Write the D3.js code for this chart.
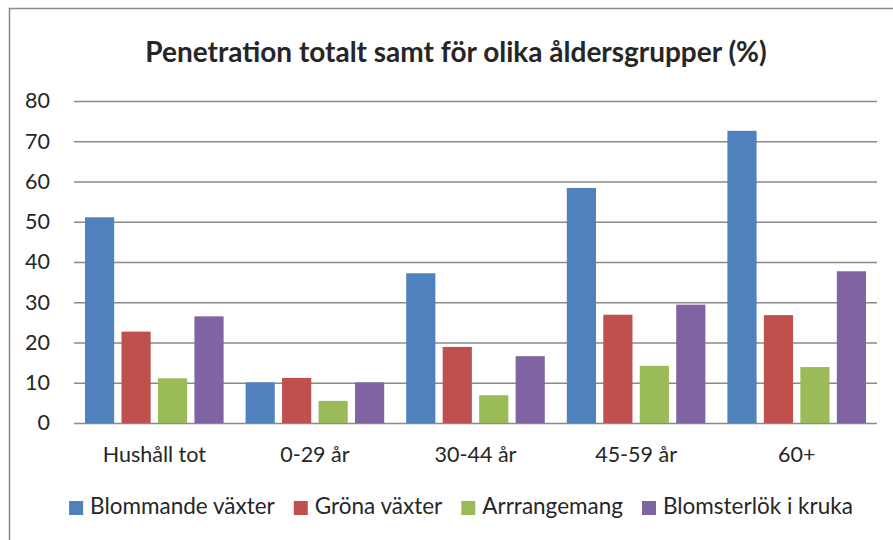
<!DOCTYPE html>
<html>
<head>
<meta charset="utf-8">
<script src="https://cdn.jsdelivr.net/npm/d3@7"></script>
<style>
  body { margin: 0; background: #fff; }
  text { font-family: Lato, "Open Sans", sans-serif; fill: #262626; }
</style>
</head>
<body>
<script>
// chart data
var categories = ["Hushåll tot", "0-29 år", "30-44 år", "45-59 år", "60+"];
var seriesNames = ["Blommande växter", "Gröna växter", "Arrrangemang", "Blomsterlök i kruka"];
var blommande = [51.1, 10.1, 37.2, 58.4, 72.6];
var grona = [22.7, 11.2, 18.9, 26.9, 26.8];
var arrangemang = [11.1, 5.5, 6.9, 14.2, 13.9];
var blomsterlok = [26.5, 10.1, 16.6, 29.4, 37.7];
var yTicks = [0, 10, 20, 30, 40, 50, 60, 70, 80];
var colors = ["#4F81BD", "#C0504D", "#9BBB59", "#8064A2"];

var seriesValues = [blommande, grona, arrangemang, blomsterlok];

var width = 893, height = 540;
var margin = { top: 101, right: 16, bottom: 117, left: 74 };
var plotW = width - margin.left - margin.right,
    plotH = height - margin.top - margin.bottom;

var svg = d3.select("body").append("svg")
  .attr("width", width)
  .attr("height", height);

// outer frame (runs off the right and bottom edge)
svg.append("rect")
  .attr("x", 9.5).attr("y", 8.5)
  .attr("width", width).attr("height", height)
  .attr("fill", "none")
  .attr("stroke", "#8a8a8a")
  .attr("stroke-width", 1.5);

// title
svg.append("text")
  .attr("x", 456)
  .attr("y", 62)
  .attr("text-anchor", "middle")
  .style("font-weight", "bold")
  .style("font-size", "28px")
  .text("Penetration totalt samt för olika åldersgrupper (%)");

var g = svg.append("g")
  .attr("transform", "translate(" + margin.left + "," + margin.top + ")");

var x0 = d3.scaleBand()
  .domain(categories)
  .range([0, plotW]);

var x1 = d3.scaleBand()
  .domain(d3.range(seriesNames.length))
  .range([11, x0.bandwidth() - 11])
  .paddingInner(0.2);

var y = d3.scaleLinear()
  .domain([0, 80])
  .range([plotH, 0]);

// gridlines
var grid = g.append("g")
  .call(d3.axisLeft(y).tickValues(yTicks).tickSize(-plotW).tickFormat(""));
grid.select(".domain").remove();
grid.selectAll(".tick line")
  .attr("stroke", "#8a8a8a")
  .attr("stroke-width", 1.5);

// y labels
var yAxis = g.append("g")
  .call(d3.axisLeft(y).tickValues(yTicks).tickSize(0).tickPadding(24));
yAxis.select(".domain").remove();
yAxis.selectAll("text")
  .style("font-size", "21.5px")
  .style("font-family", "Lato, sans-serif")
  .attr("fill", "#262626");

// bars
var groups = g.selectAll(".group")
  .data(categories)
  .enter().append("g")
  .attr("class", "group")
  .attr("transform", d => "translate(" + x0(d) + ",0)");

groups.selectAll("rect")
  .data((d, ci) => seriesValues.map((vals, si) => ({ si: si, v: vals[ci] })))
  .enter().append("rect")
  .attr("x", d => x1(d.si))
  .attr("width", x1.bandwidth())
  .attr("y", d => y(d.v))
  .attr("height", d => y(0) - y(d.v))
  .attr("fill", d => colors[d.si]);

// x axis labels
var xAxis = g.append("g")
  .attr("transform", "translate(0," + plotH + ")")
  .call(d3.axisBottom(x0).tickSize(0).tickPadding(24));
xAxis.select(".domain").remove();
xAxis.selectAll("text")
  .style("font-size", "21.5px")
  .style("font-family", "Lato, sans-serif")
  .attr("fill", "#262626");

// legend
var legend = svg.append("g");
var lx = 0;
seriesNames.forEach(function (name, i) {
  var item = legend.append("g").attr("transform", "translate(" + lx + ",0)");
  item.append("rect")
    .attr("x", 0).attr("y", -13)
    .attr("width", 14).attr("height", 14)
    .attr("fill", colors[i]);
  var t = item.append("text")
    .attr("x", 21).attr("y", 0)
    .style("font-size", "22.5px")
    .text(name);
  lx += 21 + t.node().getComputedTextLength() + 19;
});
var legendW = lx - 19;
legend.attr("transform", "translate(" + (461 - legendW / 2) + ",514)");
</script>
</body>
</html>
